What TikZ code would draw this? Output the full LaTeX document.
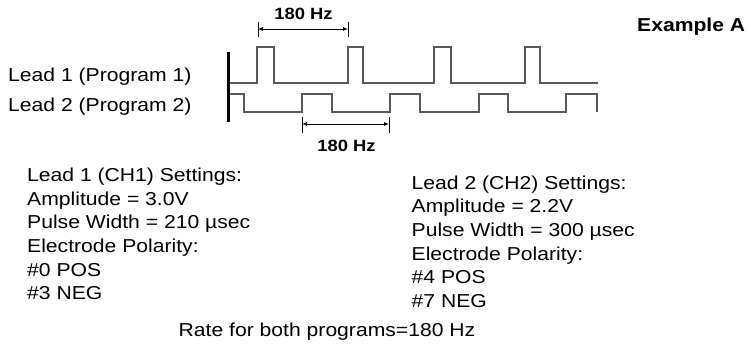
\documentclass[tikz,border=0pt]{standalone}
\usepackage{fontspec}
\setmainfont{Liberation Sans}[FakeStretch=1.13]
\usetikzlibrary{arrows.meta}
\begin{document}
\begin{tikzpicture}[x=1pt,y=-1pt,
  txt/.style={anchor=base west,inner sep=0pt,font=\fontsize{18.7}{22}\selectfont},
  hz/.style={anchor=base,inner sep=0pt,font=\fontsize{16.3}{20}\selectfont\bfseries},
  wave/.style={draw=black!65,line width=1.2pt},
  dim/.style={draw=black,line width=0.8pt,{Latex[length=5pt,width=4pt]}-{Latex[length=5pt,width=4pt]}},
  tick/.style={draw=black,line width=0.8pt}]
\useasboundingbox (0,0) rectangle (749,343);
% leads bar
\coordinate (bt) at (228,52);
\coordinate (bb) at (228,122);
\draw[line width=3pt] (bt) -- (bb);
% Lead 1 waveform
\draw[wave] (230,83) -- (257,83) -- (257,47) -- (274,47) -- (274,83)
  -- (348,83) -- (348,47) -- (363,47) -- (363,83)
  -- (434,83) -- (434,47) -- (451,47) -- (451,83)
  -- (525,83) -- (525,47) -- (540,47) -- (540,83) -- (598,83);
% Lead 2 waveform
\draw[wave] (230,94) -- (244,94) -- (244,112) -- (302,112) -- (302,94) -- (332,94) -- (332,112)
  -- (390,112) -- (390,94) -- (420,94) -- (420,112)
  -- (479,112) -- (479,94) -- (508,94) -- (508,112)
  -- (566,112) -- (566,94) -- (597,94) -- (597,112);
% top dimension
\coordinate (ta) at (258,29); \coordinate (tb) at (348,29);
\draw[tick] (258,22) -- (258,37);
\draw[tick] (348,22) -- (348,37);
\draw[dim] (ta) -- (tb);
\node[hz] (hztop) at (303.5,19) {180 Hz};
% bottom dimension
\coordinate (ba) at (302,124); \coordinate (bbb) at (389,124);
\draw[tick] (302,117) -- (302,133);
\draw[tick] (389,117) -- (389,133);
\draw[dim] (ba) -- (bbb);
\node[hz] (hzbot) at (346.5,151.7) {180 Hz};
% labels
\node[txt] (lab1) at (8,81.7) {Lead 1 (Program 1)};
\node[txt] (lab2) at (8,111) {Lead 2 (Program 2)};
\node[txt,font=\fontsize{18.7}{22}\selectfont\bfseries] (exA) at (637,31) {Example A};
% settings blocks
\foreach \t [count=\i from 0] in {Lead 1 (CH1) Settings:,Amplitude = 3.0V,Pulse Width = 210 µsec,Electrode Polarity:,\#0 POS,\#3 NEG}
  \node[txt] (l\i) at (27,181.7+23.6*\i) {\t};
\foreach \t [count=\i from 0] in {Lead 2 (CH2) Settings:,Amplitude = 2.2V,Pulse Width = 300 µsec,Electrode Polarity:,\#4 POS,\#7 NEG}
  \node[txt] (r\i) at (411.5,189.3+23.6*\i) {\t};
\node[txt] (rate) at (178.5,336) {Rate for both programs=180 Hz};
\end{tikzpicture}
\end{document}
